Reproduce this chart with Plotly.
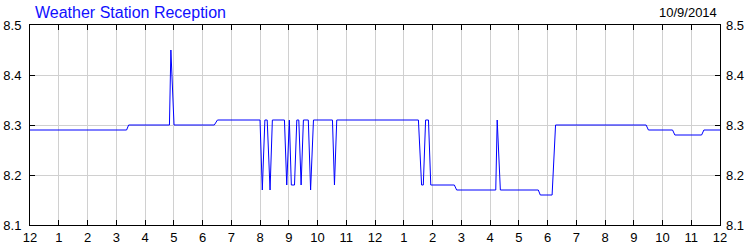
import plotly.graph_objects as go

# Data: hours since midnight (0..24) and reception values
hours = [0, 3.36, 3.43, 4.85, 4.90, 5.01, 6.41, 6.52,
         8.00, 8.08, 8.17, 8.25, 8.35, 8.43,
         8.85, 8.93, 9.02, 9.09, 9.20, 9.28, 9.35, 9.43, 9.51, 9.68, 9.76, 9.86,
         10.52, 10.59, 10.67,
         13.51, 13.62, 13.68, 13.76, 13.86, 13.94,
         14.76, 14.84,
         16.20, 16.25, 16.36,
         17.68, 17.75, 18.16, 18.28,
         21.43, 21.51, 22.35, 22.43, 23.36, 23.44, 24]
values = [8.29, 8.29, 8.30, 8.30, 8.45, 8.30, 8.30, 8.31,
          8.31, 8.17, 8.31, 8.31, 8.17, 8.31,
          8.31, 8.18, 8.31, 8.18, 8.18, 8.31, 8.31, 8.18, 8.31, 8.31, 8.17, 8.31,
          8.31, 8.18, 8.31,
          8.31, 8.18, 8.18, 8.31, 8.31, 8.18,
          8.18, 8.17,
          8.17, 8.31, 8.17,
          8.17, 8.16, 8.16, 8.30,
          8.30, 8.29, 8.29, 8.28, 8.28, 8.29, 8.29]

x_tickvals = list(range(0, 25))
x_ticktext = ["12", "1", "2", "3", "4", "5", "6", "7", "8", "9", "10", "11",
              "12", "1", "2", "3", "4", "5", "6", "7", "8", "9", "10", "11", "12"]
y_tickvals = [8.1, 8.2, 8.3, 8.4, 8.5]
y_ticktext = ["8.1", "8.2", "8.3", "8.4", "8.5"]

title_text = "Weather Station Reception"
date_text = "10/9/2014"

FONT = "Arial, Liberation Sans, sans-serif"

fig = go.Figure()
fig.add_trace(go.Scatter(x=hours, y=values, mode="lines",
                         line=dict(color="#0000ff", width=1),
                         hoverinfo="skip", showlegend=False))
fig.add_trace(go.Scatter(x=hours, y=values, mode="lines", yaxis="y2",
                         line=dict(color="rgba(0,0,0,0)", width=0),
                         hoverinfo="skip", showlegend=False))

fig.update_layout(
    template="none",
    width=750, height=250,
    margin=dict(l=30, r=30, t=25, b=25, pad=0),
    paper_bgcolor="white", plot_bgcolor="white",
    font=dict(family=FONT, size=13, color="#000000"),
    xaxis=dict(range=[0, 24], tickvals=x_tickvals, ticktext=x_ticktext,
               showgrid=True, gridcolor="#d0d0d0", gridwidth=1,
               showline=True, linecolor="black", linewidth=1, mirror="ticks",
               ticks="inside", ticklen=5, tickcolor="black",
               zeroline=False, automargin=False,
               tickfont=dict(family=FONT, size=13, color="#000000")),
    yaxis=dict(range=[8.1, 8.5], tickvals=y_tickvals, ticktext=y_ticktext,
               showgrid=True, gridcolor="#d0d0d0", gridwidth=1,
               showline=True, linecolor="black", linewidth=1, mirror="ticks",
               ticks="inside", ticklen=5, tickcolor="black",
               zeroline=False, automargin=False, ticklabelstandoff=5,
               tickfont=dict(family=FONT, size=13, color="#000000")),
    yaxis2=dict(range=[8.1, 8.5], tickvals=y_tickvals, ticktext=y_ticktext,
                overlaying="y", side="right", showgrid=False, ticks="",
                showline=False, zeroline=False, automargin=False,
                ticklabelstandoff=5,
                tickfont=dict(family=FONT, size=13, color="#000000")),
    annotations=[
        dict(text=title_text, xref="paper", yref="paper", x=0.0043, y=1.062,
             xanchor="left", yanchor="middle", showarrow=False,
             font=dict(family=FONT, size=16, color="#1010ff")),
        dict(text=date_text, xref="paper", yref="paper", x=0.998, y=1.062,
             xanchor="right", yanchor="middle", showarrow=False,
             font=dict(family=FONT, size=13, color="#000000")),
    ],
)

fig.write_html("out.html", config={"displayModeBar": False})
